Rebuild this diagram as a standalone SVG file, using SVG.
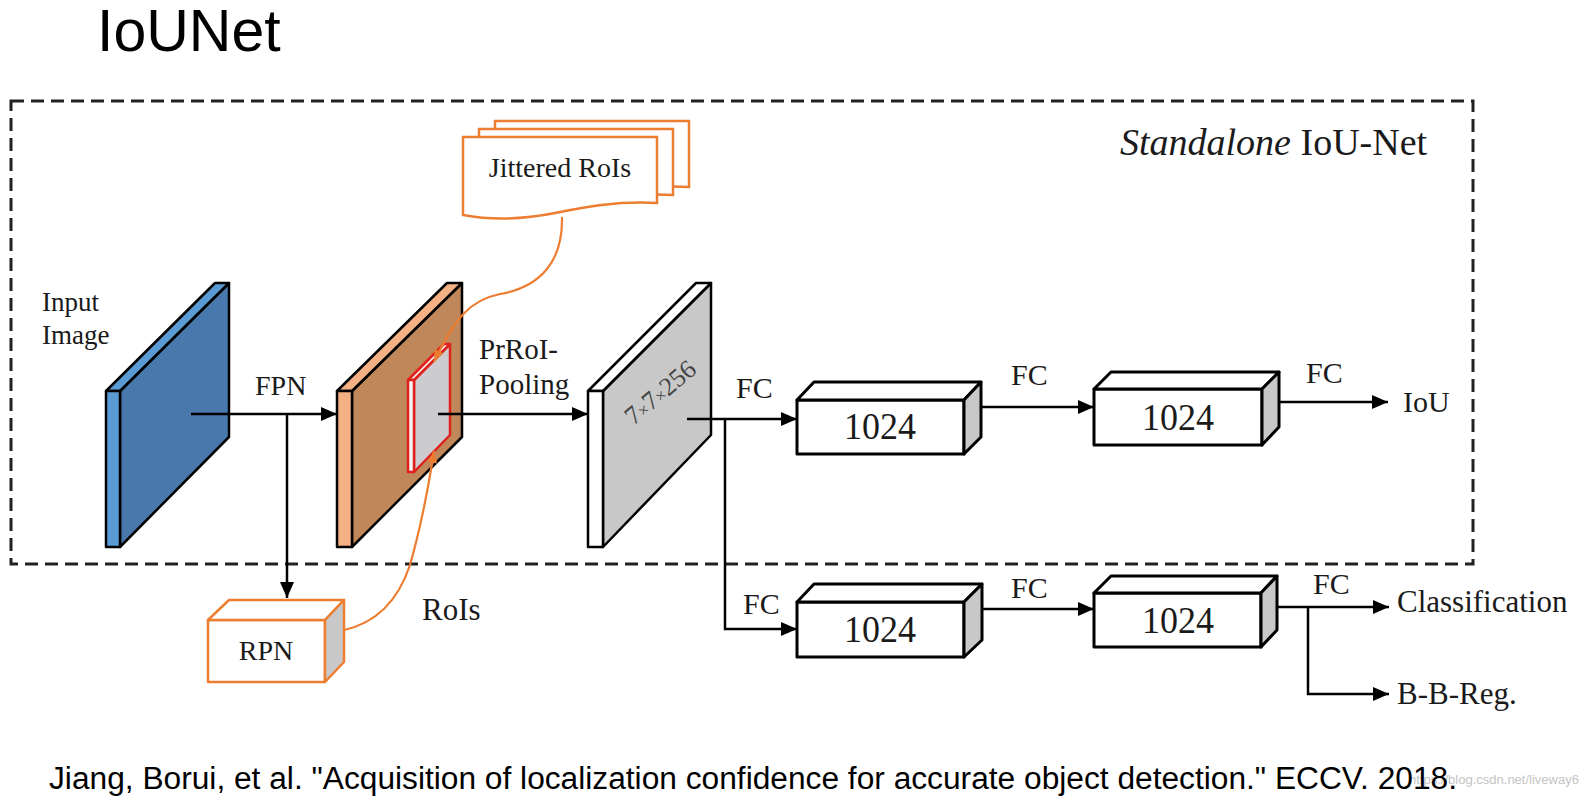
<svg xmlns="http://www.w3.org/2000/svg" width="1586" height="799" viewBox="0 0 1586 799">
<style>
.serif{font-family:"Liberation Serif","Times New Roman",serif;fill:#1a1a1a}
.lbl{font-size:30px}
.num{font-size:38px}
.ln{fill:none;stroke:#000;stroke-width:2.5}
.orl{fill:none;stroke:#ED7D31;stroke-width:2.2}
.edge{stroke:#000;stroke-width:2.5;stroke-linejoin:round}
.box{fill:#fff;stroke:#000;stroke-width:3;stroke-linejoin:round}
.side{fill:#c8c8c8;stroke:#000;stroke-width:3;stroke-linejoin:round}
.obox{fill:#fff;stroke:#ED7D31;stroke-width:2.5;stroke-linejoin:round}
.oside{fill:#c8c8c8;stroke:#ED7D31;stroke-width:2.5;stroke-linejoin:round}
</style>
<defs>
<marker id="ah" viewBox="0 0 16 14" refX="16" refY="7" markerWidth="16" markerHeight="14" markerUnits="userSpaceOnUse" orient="auto"><path d="M0,0 L16,7 L0,14 z" fill="#000"/></marker>
<marker id="oah" viewBox="0 0 12 10" refX="12" refY="5" markerWidth="12" markerHeight="10" markerUnits="userSpaceOnUse" orient="auto"><path d="M0,0 L12,5 L0,10 z" fill="#ED7D31"/></marker>
<path id="doc" d="M463,137 H657 V203 C615,201 585,207 555,213 C525,219 495,221 463,215 Z"/>
</defs>
<rect width="1586" height="799" fill="#fff"/>

<text x="97" y="51" font-family="Liberation Sans, Arial, sans-serif" font-size="59" fill="#000">IoUNet</text>

<rect id="standalone-box" x="11" y="101" width="1462" height="463" fill="none" stroke="#222" stroke-width="3" stroke-dasharray="13 7"/>
<text class="serif" x="1120" y="155" font-size="38"><tspan font-style="italic">Standalone</tspan> IoU-Net</text>

<g id="input-image">
<polygon points="120,391 229,283 229,437 120,547" fill="#4878AC" class="edge"/>
<polygon points="106,391 120,391 229,283 215,283" fill="#5B9BD5" class="edge"/>
<rect x="106" y="391" width="14" height="156" fill="#5B9BD5" class="edge"/>
<text class="serif" x="42" y="311" font-size="27">Input</text>
<text class="serif" x="42" y="344" font-size="27">Image</text>
</g>

<g id="fpn-feature">
<polygon points="352,391 462,283 462,437 352,547" fill="#C0875A" class="edge"/>
<polygon points="337,391 352,391 462,283 447,283" fill="#F4B183" class="edge"/>
<rect x="337" y="391" width="15" height="156" fill="#F4B183" class="edge"/>
<g id="roi-region" stroke="#E0201B" stroke-width="2.5" stroke-linejoin="round">
<polygon points="414,380 450,344 450,435 414,472" fill="#cbcbd0"/>
<polygon points="408,380 414,380 450,344 444,344" fill="#f4f4f4"/>
<rect x="408" y="380" width="6" height="92" fill="#f4f4f4"/>
</g>
</g>

<g id="pooled-feature">
<polygon points="603,391 711,283 711,435 603,547" fill="#c8c8c8" class="edge"/>
<polygon points="588,391 603,391 711,283 696,283" fill="#fff" class="edge"/>
<rect x="588" y="391" width="15" height="156" fill="#fff" class="edge"/>
<text class="serif" x="660" y="401" font-size="26" fill="#444" style="fill:#444" text-anchor="middle" transform="rotate(-40 660 392)">7<tspan font-size="17">×</tspan>7<tspan font-size="17">×</tspan>256</text>
</g>

<g id="jittered-rois">
<use href="#doc" transform="translate(32,-16)" fill="#fff" stroke="#ED7D31" stroke-width="2.5"/>
<use href="#doc" transform="translate(16,-8)" fill="#fff" stroke="#ED7D31" stroke-width="2.5"/>
<use href="#doc" fill="#fff" stroke="#ED7D31" stroke-width="2.5"/>
<text class="serif" x="560" y="177" font-size="28" text-anchor="middle">Jittered RoIs</text>
</g>

<g id="rpn">
<rect x="208" y="620" width="117" height="62" class="obox"/>
<polygon points="208,620 229,600 344,600 325,620" class="obox"/>
<polygon points="325,620 344,600 344,662 325,682" class="oside"/>
<text class="serif" x="266" y="660" font-size="28" text-anchor="middle">RPN</text>
</g>

<g id="fc1-iou">
<rect x="797" y="400" width="167" height="54" class="box"/>
<polygon points="797,400 814,382 981,382 964,400" class="box"/>
<polygon points="964,400 981,382 981,437 964,454" class="side"/>
<text class="serif num" x="880" y="439" text-anchor="middle" textLength="72" lengthAdjust="spacingAndGlyphs">1024</text>
</g>
<g id="fc2-iou">
<rect x="1094" y="389" width="168" height="56" class="box"/>
<polygon points="1094,389 1111,372 1279,372 1262,389" class="box"/>
<polygon points="1262,389 1279,372 1279,427 1262,445" class="side"/>
<text class="serif num" x="1178" y="430" text-anchor="middle" textLength="72" lengthAdjust="spacingAndGlyphs">1024</text>
</g>
<g id="fc1-cls">
<rect x="797" y="602" width="167" height="55" class="box"/>
<polygon points="797,602 814,584 982,584 964,602" class="box"/>
<polygon points="964,602 982,584 982,640 964,657" class="side"/>
<text class="serif num" x="880" y="642" text-anchor="middle" textLength="72" lengthAdjust="spacingAndGlyphs">1024</text>
</g>
<g id="fc2-cls">
<rect x="1094" y="593" width="167" height="54" class="box"/>
<polygon points="1094,593 1111,576 1277,576 1261,593" class="box"/>
<polygon points="1261,593 1277,576 1277,630 1261,647" class="side"/>
<text class="serif num" x="1178" y="633" text-anchor="middle" textLength="72" lengthAdjust="spacingAndGlyphs">1024</text>
</g>

<g id="outputs">
<text class="serif lbl" x="1403" y="412">IoU</text>
<text class="serif" x="1397" y="612" font-size="31">Classification</text>
<text class="serif" x="1397" y="704" font-size="31">B-B-Reg.</text>
</g>

<g id="connectors">
<path class="ln" d="M191,414 H337" marker-end="url(#ah)"/>
<path class="ln" d="M287,414 V598" marker-end="url(#ah)"/>
<path class="ln" d="M438,414 H588" marker-end="url(#ah)"/>
<path class="ln" d="M687,419 H797" marker-end="url(#ah)"/>
<path class="ln" d="M725,419 V629 H797" marker-end="url(#ah)"/>
<path class="ln" d="M981,407 H1094" marker-end="url(#ah)"/>
<path class="ln" d="M1279,402 H1388" marker-end="url(#ah)"/>
<path class="ln" d="M982,609 H1094" marker-end="url(#ah)"/>
<path class="ln" d="M1277,607 H1389" marker-end="url(#ah)"/>
<path class="ln" d="M1308,607 V694 H1389" marker-end="url(#ah)"/>
<path class="orl" d="M562,217 C563,262 540,287 500,294 C470,300 455,318 434,362" marker-end="url(#oah)"/>
<path class="orl" d="M344,630 C380,622 400,595 410,565 C420,530 428,490 434,451" marker-end="url(#oah)"/>
<text class="serif" x="255" y="395" font-size="28">FPN</text>
<text class="serif" x="479" y="359" font-size="29">PrRoI-</text>
<text class="serif" x="479" y="394" font-size="29">Pooling</text>
<text class="serif" x="422" y="620" font-size="31">RoIs</text>
<text class="serif lbl" x="736" y="398">FC</text>
<text class="serif lbl" x="1011" y="385">FC</text>
<text class="serif lbl" x="1306" y="383">FC</text>
<text class="serif lbl" x="743" y="614">FC</text>
<text class="serif lbl" x="1011" y="598">FC</text>
<text class="serif lbl" x="1313" y="594">FC</text>
</g>

<text x="1409" y="784" font-family="Liberation Sans, Arial, sans-serif" font-size="13" fill="#c4c4c4" textLength="170" lengthAdjust="spacingAndGlyphs">https://blog.csdn.net/liveway6</text>
<text x="49" y="789" font-family="Liberation Sans, Arial, sans-serif" font-size="31" fill="#000" textLength="1408" lengthAdjust="spacingAndGlyphs">Jiang, Borui, et al. "Acquisition of localization confidence for accurate object detection." ECCV. 2018.</text>
</svg>
